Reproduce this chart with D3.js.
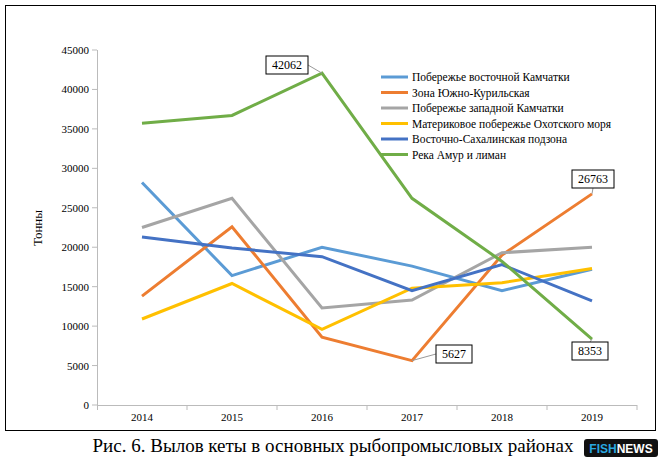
<!DOCTYPE html><html><head><meta charset="utf-8"><script src="https://cdn.jsdelivr.net/npm/d3@7"></script>
<style>body{margin:0;background:#fff} text{font-family:"Liberation Serif","DejaVu Serif",serif}</style></head><body><svg id="c" width="668" height="468"></svg>
<script>
const years=[2014,2015,2016,2017,2018,2019];
const names=["Побережье восточной Камчатки","Зона Южно-Курильская","Побережье западной Камчатки","Материковое побережье Охотского моря","Восточно-Сахалинская подзона","Река Амур и лиман"];
const colors=["#5b9bd5","#ed7d31","#a5a5a5","#ffc000","#4472c4","#70ad47"];
const eastKam=[28200,16400,20000,17600,14500,17200];
const southKur=[13800,22600,8600,5627,19000,26763];
const westKam=[22500,26200,12300,13300,19300,20000];
const okhotsk=[10900,15400,9600,14800,15500,17300];
const sakhalin=[21300,19900,18800,14500,17800,13200];
const amur=[35700,36700,42062,26200,18200,8353];
const series=[eastKam,southKur,westKam,okhotsk,sakhalin,amur];
const yTicks=d3.range(0,45001,5000);
const svg=d3.select("#c");
svg.append("rect").attr("x",5.5).attr("y",5.5).attr("width",650).attr("height",425).attr("fill","none").attr("stroke","#000");
const x=d3.scalePoint().domain(years).range([142,592]).padding(0);
const y=d3.scaleLinear().domain([0,45000]).range([405,50]);
const g=svg.append("g");
g.append("line").attr("x1",97).attr("x2",637).attr("y1",405.5).attr("y2",405.5).attr("stroke","#bbb");
g.append("line").attr("x1",97.5).attr("x2",97.5).attr("y1",50).attr("y2",405).attr("stroke","#bbb");
yTicks.forEach(t=>{g.append("line").attr("x1",92).attr("x2",97).attr("y1",y(t)).attr("y2",y(t)).attr("stroke","#bbb");
g.append("text").attr("x",89).attr("y",y(t)+4).attr("text-anchor","end").attr("font-size",11).text(t);});
years.forEach(v=>{g.append("text").attr("x",x(v)).attr("y",421).attr("text-anchor","middle").attr("font-size",11).text(v);
g.append("line").attr("x1",x(v)+45).attr("x2",x(v)+45).attr("y1",405).attr("y2",410).attr("stroke","#bbb");});
g.append("line").attr("x1",97.5).attr("x2",97.5).attr("y1",405).attr("y2",410).attr("stroke","#bbb");
svg.append("text").attr("transform","translate(42,228) rotate(-90)").attr("text-anchor","middle").attr("font-size",13).text("Тонны");
const line=d3.line().x((d,i)=>x(years[i])).y(d=>y(d));
series.forEach((s,i)=>svg.append("path").attr("d",line(s)).attr("fill","none").attr("stroke",colors[i]).attr("stroke-width",3));
names.forEach((n,i)=>{const ly=77+i*15.5;
svg.append("line").attr("x1",381).attr("x2",408).attr("y1",ly).attr("y2",ly).attr("stroke",colors[i]).attr("stroke-width",3);
svg.append("text").attr("x",412).attr("y",ly+4).attr("font-size",11.5).text(n);});
function callout(val,yr,bx,by,w,ax,ay){
svg.append("line").attr("x1",ax).attr("y1",ay).attr("x2",x(yr)).attr("y2",y(val)).attr("stroke","#999");
svg.append("rect").attr("x",bx).attr("y",by).attr("width",w).attr("height",18).attr("fill","#fff").attr("stroke","#000");
svg.append("text").attr("x",bx+w/2).attr("y",by+13).attr("text-anchor","middle").attr("font-size",12).text(val);}
callout(amur[2],2016,266,56,42,308,65);
callout(southKur[3],2017,436,345,36,436,354);
callout(southKur[5],2019,572,170,42,593,188);
callout(amur[5],2019,572,342,36,590,342);
svg.append("text").attr("x",333).attr("y",452).attr("text-anchor","middle").attr("font-size",19).text("Рис. 6. Вылов кеты в основных рыбопромысловых районах");
svg.append("rect").attr("x",584).attr("y",439).attr("width",74).attr("height",18).attr("rx",3).attr("fill","#111");
const t=svg.append("text").attr("x",621).attr("y",453).attr("text-anchor","middle").attr("font-weight","bold").attr("font-size",12).style("font-family","'Liberation Sans',sans-serif");
t.append("tspan").attr("fill","#29a8e0").text("FISH");t.append("tspan").attr("fill","#fff").text("NEWS");
</script></body></html>
